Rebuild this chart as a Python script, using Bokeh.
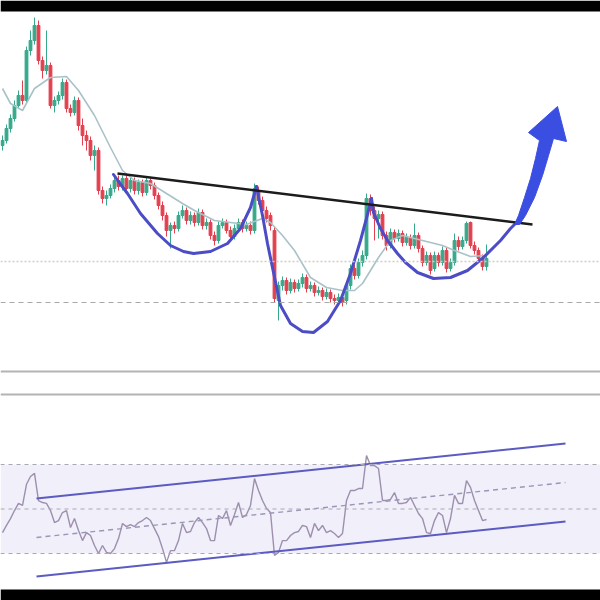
from bokeh.plotting import figure
from bokeh.models import Range1d, Span, BoxAnnotation, ColumnDataSource
from bokeh.embed import file_html
from bokeh.resources import INLINE

# ---- price candles (bar index 0..121) ----
opens = [455,460,472,482,495,505,500,550,560,575,540,530,535,495,500,505,518,492,488,500,
         475,465,460,445,450,410,402,405,412,420,414,422,412,420,410,418,408,420,415,405,
         395,385,370,375,372,385,390,380,385,378,388,375,378,365,360,375,378,370,364,372,
         378,372,375,370,410,400,390,385,370,300,315,320,310,318,312,317,323,312,315,308,
         310,304,308,302,300,303,300,315,332,325,338,345,402,390,382,386,365,355,368,362,
         367,358,363,355,365,352,338,345,332,345,338,350,332,338,360,354,360,378,355,350,
         342,334]
closes = [460,472,482,495,505,500,550,560,575,540,530,535,495,500,505,518,492,488,500,475,
          465,460,445,450,410,402,405,412,420,414,422,412,420,410,418,408,420,415,405,395,
          385,370,375,372,385,390,380,385,378,388,375,378,365,360,375,378,370,364,372,378,
          372,375,370,412,400,390,382,375,302,315,320,310,318,312,317,323,312,315,308,310,
          304,308,302,300,303,298,315,332,325,338,345,402,390,382,386,365,355,368,362,367,
          358,363,355,365,352,338,345,330,345,338,350,332,338,360,354,360,377,355,350,342,
          334,342]
highs = [465,476,486,500,510,520,554,570,583,580,544,570,538,504,509,522,521,496,504,503,
         482,470,464,455,453,414,410,416,424,425,425,425,423,423,421,421,423,423,418,408,
         399,388,378,379,389,395,393,389,388,392,391,382,381,369,379,382,381,374,376,382,
         381,379,379,417,414,404,394,388,374,319,324,323,322,321,321,327,326,319,318,314,
         313,312,311,306,307,306,319,336,336,342,350,407,406,394,390,389,369,372,371,371,
         370,367,366,377,368,355,349,348,349,348,354,353,342,367,364,364,379,379,359,353,
         346,356]
lows = [450,457,468,479,492,496,497,545,556,536,522,526,492,488,496,501,488,484,485,470,
        455,450,440,430,406,397,395,402,408,410,410,408,408,406,406,404,405,411,401,391,
        380,364,352,367,369,382,376,376,374,375,371,371,361,355,357,372,367,360,361,369,
        368,369,366,367,396,386,378,370,298,280,310,306,307,308,309,313,308,309,304,305,
        300,301,298,296,296,294,296,311,321,322,334,341,385,360,362,361,350,352,358,359,
        354,355,351,352,348,334,335,326,329,334,335,328,329,335,350,351,357,352,346,338,
        330,330]

# ---- moving average (read at sample bars) ----
ma_bar = [0,2,5,8,12,16,19,23,27,30,33,37,41,45,48,53,57,61,65,67,70,73,77,81,85,88,
          90,92,94,97,100,105,110,113,117,121]
ma_val = [512,497,490,512,523,524,510,485,453,430,420,417,407,397,390,380,378,376,382,
          378,365,350,323,313,310,310,317,330,343,360,365,360,355,350,344,345]

# ---- pattern drawing (inverse head & shoulders) ----
ls_bar = [27.75,29,31.25,34.5,38.75,42,45.25,47.75,52,56.25,59.5,62,63.5]
ls_val = [426,419,407,387,367,355,349,347,349,357,372,393,414]
head_bar = [63.5,64,65,66.25,67.75,69.5,72,75,77.75,81.25,84.5,87,89.5,91.25,92.25]
head_val = [414,404,385,357,328,295,277,269,268,279,300,327,360,386,402]
rs_bar = [92.25,92.75,94.5,96.25,98.75,100.75,103.75,107.75,112,116.25,120.25,124.5,127,128.75]
rs_val = [402,388,372,360,347,338,328,322,323,330,343,360,372,379]
neck_bar = [28.75,132.5]
neck_val = [427,376]
arrow_bar = [128,129,130.5,132,133.25,134.25,131.5,138.75,141,137.75,136.5,135,133,130.75,129.25]
arrow_val = [376,385,403,422,442,460,468,494,459,462,445,425,403,385,376]

support_level = 339
lower_level = 298

# ---- RSI ----
rsi = [39.4,42.6,45.7,49.3,52.5,51.6,61.1,64.6,66.0,53.8,52.9,52.5,49.3,43.9,44.8,48.4,49.3,41.7,45.7,40.3,
       35.8,39.4,38.1,33.6,30.0,33.6,30.5,30.0,32.2,36.7,43.5,42.1,43.0,42.1,43.9,44.8,46.2,44.8,41.2,37.6,
       32.2,26.0,31.3,31.3,35.8,43.5,39.4,39.9,43.9,46.2,43.9,41.2,35.8,35.8,47.1,45.7,49.3,42.6,47.5,52.9,
       46.2,47.5,51.6,63.7,58.3,53.8,50.2,48.4,29.1,30.5,35.8,35.8,38.1,39.4,39.9,42.6,42.1,37.2,43.5,40.3,
       42.6,39.4,40.3,39.0,37.2,39.0,53.8,58.3,58.3,59.2,59.2,74.0,69.5,69.5,68.2,53.8,53.8,54.3,57.4,52.5,
       52.5,52.9,55.2,51.6,48.0,45.7,39.4,39.0,44.8,48.4,47.1,39.4,45.7,56.1,52.5,52.5,62.8,59.7,53.8,49.3,
       44.8,45.3]
ch_bar = [8.5,140.75]
ch_upper = [54.7,79.4]
ch_mid = [37.2,61.9]
ch_lower = [19.7,44.4]
rsi_levels = [70,50,30]

GREEN = "#35a98a"
RED = "#e2404e"

bars = list(range(len(opens)))
colors = [GREEN if c >= o else RED for o, c in zip(opens, closes)]
src = ColumnDataSource(dict(x=bars, o=opens, c=closes, h=highs, l=lows, col=colors))

p = figure(width=600, height=600, x_range=Range1d(-0.5, 149.5), y_range=Range1d(0, 600),
           output_backend="svg", toolbar_location=None, x_axis_location=None,
           y_axis_location=None, min_border=0, outline_line_color=None,
           background_fill_color="white", border_fill_color="white")
p.grid.visible = False
p.extra_y_ranges = {"rsi": Range1d(8.876, 278.54)}

# RSI band
p.add_layout(BoxAnnotation(bottom=30, top=70, right=149.5, y_range_name="rsi", fill_color="#f1eff9",
                           fill_alpha=1, line_color=None, level="underlay"))
for lv in rsi_levels:
    p.add_layout(Span(location=lv, dimension="width", y_range_name="rsi",
                      line_color="#a8a8b4", line_dash="4 4", line_width=1.2))

# panel separators and black bands
for lv in [229, 206]:
    p.add_layout(Span(location=lv, dimension="width", line_color="#b4b4b4", line_width=2))
p.add_layout(BoxAnnotation(bottom=589, fill_color="black", fill_alpha=1, line_color=None))
p.add_layout(BoxAnnotation(top=11, fill_color="black", fill_alpha=1, line_color=None))

# price levels
p.add_layout(Span(location=support_level, dimension="width", line_color="#dcc8c8",
                  line_dash="2 2", line_width=1.5))
p.add_layout(Span(location=lower_level, dimension="width", line_color="#a8a8a8",
                  line_dash="5 4", line_width=1.2))

# candles
p.segment(x0="x", y0="h", x1="x", y1="l", color="col", line_width=1, source=src)
p.vbar(x="x", top="o", bottom="c", width=0.7, fill_color="col", line_color="col", source=src)

# moving average
p.line(ma_bar, ma_val, line_color="#a9c2c9", line_width=1.6)

# pattern
for bx, by in [(ls_bar, ls_val), (head_bar, head_val), (rs_bar, rs_val)]:
    p.line(bx, by, line_color="#4b4cc6", line_width=3, line_join="round", line_cap="round")
p.line(neck_bar, neck_val, line_color="#1c1c1c", line_width=2.5)
p.patch(arrow_bar, arrow_val, fill_color="#3b4ee2", line_color="#3b4ee2", line_width=1)

# RSI
p.line(bars, rsi, y_range_name="rsi", line_color="#9d8fae", line_width=1.4)
p.line(ch_bar, ch_upper, y_range_name="rsi", line_color="#5b5bc2", line_width=2)
p.line(ch_bar, ch_lower, y_range_name="rsi", line_color="#5b5bc2", line_width=2)
p.line(ch_bar, ch_mid, y_range_name="rsi", line_color="#9a96b8", line_width=1.4, line_dash="5 4")

open("out.html", "w").write(file_html(p, INLINE))
